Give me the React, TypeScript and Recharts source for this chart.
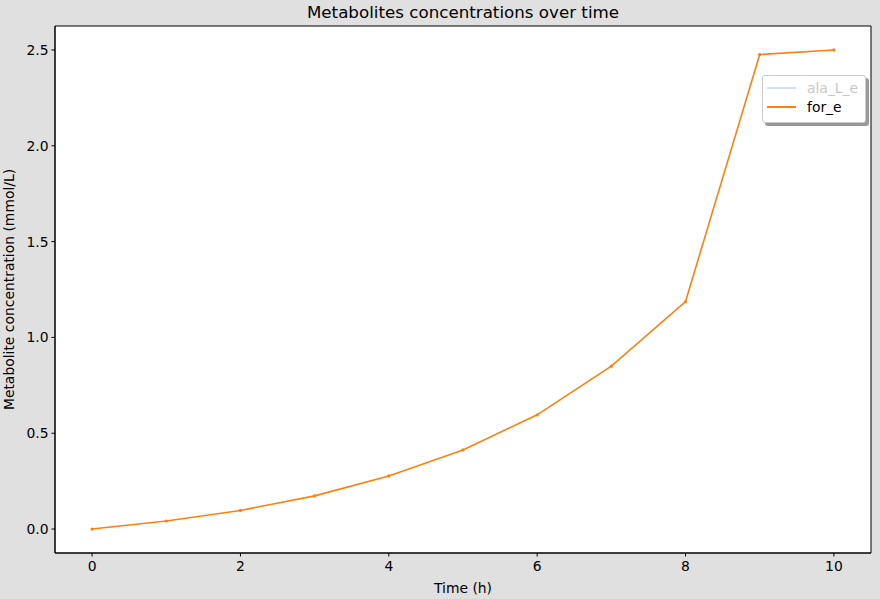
import React from "react";
import { LineChart, Line, XAxis, YAxis, ReferenceArea } from "recharts";

const times = [0, 1, 2, 3, 4, 5, 6, 7, 8, 9, 10];
const forE = [0, 0.042, 0.097, 0.173, 0.277, 0.413, 0.596, 0.85, 1.187, 2.476, 2.5];
const xTicks = [0, 2, 4, 6, 8, 10];
const yTicks = [0, 0.5, 1.0, 1.5, 2.0, 2.5];
const seriesNames = ["ala_L_e", "for_e"];

const data = times.map((t, i) => ({ t, for_e: forE[i] }));

const FONT = "DejaVu Sans, sans-serif";

const LegendBox = () => (
  <div
    style={{
      position: "absolute",
      left: 762,
      top: 75,
      width: 102,
      height: 46,
      background: "white",
      border: "1px solid #cccccc",
      borderRadius: 3,
      boxShadow: "3px 3px 0 #999999",
      fontFamily: FONT,
      fontSize: 13.9,
    }}
  >
    {seriesNames.map((n, i) => (
      <div key={n} style={{ position: "absolute", left: 4, top: 2 + i * 19, height: 19, display: "flex", alignItems: "center" }}>
        <div style={{ width: 29, height: 2, background: i === 0 ? "#d2e4f0" : "#ff7f0e" }} />
        <span style={{ marginLeft: 11, color: i === 0 ? "#c8c8c8" : "#000" }}>{n}</span>
      </div>
    ))}
  </div>
);

export default function App() {
  return (
    <div style={{ position: "absolute", left: 0, top: 0, width: 880, height: 599, background: "#e0e0e0" }}>
      <div
        style={{
          position: "absolute",
          left: 55,
          width: 816,
          top: 2,
          textAlign: "center",
          fontFamily: FONT,
          fontSize: 16.7,
          color: "#000",
        }}
      >
        Metabolites concentrations over time
      </div>
      <LineChart width={880} height={599} data={data} margin={{ top: 26, right: 9, bottom: 16, left: 10 }}>
        <XAxis
          dataKey="t"
          type="number"
          domain={[-0.5, 10.5]}
          ticks={xTicks}
          allowDataOverflow
          height={30}
          tickSize={3.5}
          tickMargin={5}
          axisLine={{ stroke: "#000", strokeWidth: 1 }}
          tickLine={{ stroke: "#000" }}
          tick={{ fill: "#000", fontFamily: FONT, fontSize: 13.9 }}
          label={{ value: "Time (h)", position: "insideBottom", offset: -10, fill: "#000", fontFamily: FONT, fontSize: 13.9 }}
        />
        <YAxis
          type="number"
          domain={[-0.125, 2.625]}
          ticks={yTicks}
          allowDataOverflow
          width={45}
          tickSize={3.5}
          tickMargin={3}
          tickFormatter={(v: number) => v.toFixed(1)}
          axisLine={{ stroke: "#000", strokeWidth: 1 }}
          tickLine={{ stroke: "#000" }}
          tick={{ fill: "#000", fontFamily: FONT, fontSize: 13.9 }}
          label={{
            value: "Metabolite concentration (mmol/L)",
            angle: -90,
            position: "insideLeft",
            offset: -1,
            style: { textAnchor: "middle" },
            fill: "#000",
            fontFamily: FONT,
            fontSize: 13.9,
          }}
        />
        <ReferenceArea
          x1={-0.5}
          x2={10.5}
          y1={-0.125}
          y2={2.625}
          fill="#ffffff"
          fillOpacity={1}
          stroke="#000"
          strokeWidth={1}
          ifOverflow="visible"
        />
        <Line
          type="linear"
          dataKey="for_e"
          name="for_e"
          stroke="#ff7f0e"
          strokeWidth={1.6}
          dot={{ r: 1.6, fill: "#ff7f0e", stroke: "#ff7f0e", strokeWidth: 0 }}
          activeDot={false}
          isAnimationActive={false}
        />
      </LineChart>
      <LegendBox />
    </div>
  );
}
